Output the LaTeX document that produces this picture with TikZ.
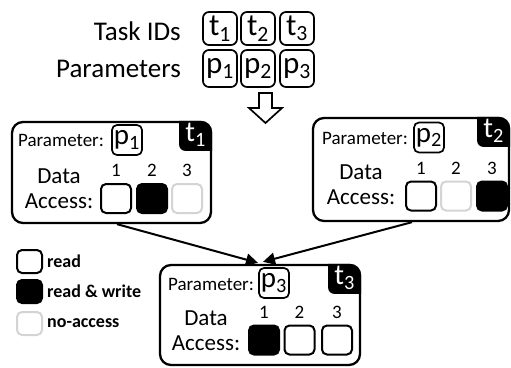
\documentclass[tikz,border=0pt]{standalone}
\usepackage{fontspec}
\setmainfont{Carlito}
\usetikzlibrary{calc,positioning,arrows.meta}
\definecolor{nogray}{RGB}{212,212,212}
\tikzset{
  biglabel/.style={font=\fontsize{27}{27}\selectfont, inner sep=0pt, anchor=east},
  idbox/.style={draw, line width=1.7pt, rounded corners=6pt, minimum width=34pt,
    minimum height=33pt, inner sep=0pt, font=\fontsize{31}{31}\selectfont},
  taskbox/.style={draw, line width=2.3pt, rounded corners=11pt, fill=white, inner sep=0pt},
  partext/.style={font=\fontsize{19}{19}\selectfont, inner sep=0pt, anchor=west},
  pbox/.style={draw, line width=1.7pt, rounded corners=5pt, minimum width=30pt,
    minimum height=30pt, inner sep=0pt, font=\fontsize{29}{29}\selectfont},
  tabtext/.style={text=white, font=\fontsize{29}{29}\selectfont, inner sep=0pt},
  daccess/.style={font=\fontsize{23}{25}\selectfont, inner sep=0pt, align=center},
  numtext/.style={font=\fontsize{19}{19}\selectfont, inner sep=0pt},
  sq/.style={line width=2pt, rounded corners=5pt, minimum width=30pt, minimum height=29pt, inner sep=0pt},
  rdsq/.style={sq, draw=black, fill=white},
  rwsq/.style={sq, draw=black, fill=black},
  nasq/.style={sq, draw=nogray, fill=white},
  legtext/.style={font=\bfseries\fontsize{18}{18}\selectfont, inner sep=0pt, anchor=west},
  flow/.style={line width=2pt, -{Triangle[length=12pt,width=12pt]}}
}
\begin{document}
\begin{tikzpicture}[x=1pt,y=-1pt]
\useasboundingbox (0,0) rectangle (511,367);
% task ids and parameters
\node[biglabel] (tasklbl) at (181,31) {Task IDs};
\node[biglabel] (parlbl) at (181,69) {Parameters};
\foreach \i/\x in {1/220,2/258,3/297} {
  \node[idbox] (id\i) at (\x,28.5) {t\textsubscript{\i}};
  \node[idbox, minimum height=37pt] (par\i) at (\x,68.5) {p\textsubscript{\i}};
}
% hollow arrow
\draw[line width=1.7pt, fill=white] (259,93) -- (272,93) -- (272,108) -- (282,108)
  -- (265.5,123) -- (249,108) -- (259,108) -- cycle;
% the three tasks
\node[taskbox, minimum width=199pt, minimum height=101pt] (box1) at (111.5,172.5) {};
\node[taskbox, minimum width=196pt, minimum height=103pt] (box2) at (411,169.5) {};
\node[taskbox, minimum width=200pt, minimum height=100pt] (box3) at (260,315) {};
\foreach \b/\t in {box1/1,box2/2,box3/3} {
  \fill ($(\b.north east)+(-33,0)$) -- ($(\b.north east)+(-11,0)$)
    arc[start angle=-90,end angle=0,radius=11] -- ($(\b.north east)+(0,30)$)
    -- ($(\b.north east)+(-27,30)$) arc[start angle=90,end angle=180,radius=6] -- cycle;
  \node[tabtext] (tab\t) at ($(\b.north east)+(-16.5,14)$) {t\textsubscript{\t}};
}
% task 1
\node[partext] (par1lbl) at (18,140) {Parameter:};
\node[pbox] (p1) at (127,140) {p\textsubscript{1}};
\node[daccess] (acc1) at (59,189) {Data\\Access:};
\node[rdsq] (s11) at (116,198.5) {};
\node[rwsq] (s12) at (152,198.5) {};
\node[nasq] (s13) at (187,198.5) {};
% task 2
\node[partext] (par2lbl) at (322,138.5) {Parameter:};
\node[pbox] (p2) at (429,137.5) {p\textsubscript{2}};
\node[daccess] (acc2) at (361,185) {Data\\Access:};
\node[rdsq] (s21) at (421,196) {};
\node[nasq] (s22) at (456,196) {};
\node[rwsq] (s23) at (492,196) {};
% task 3
\node[partext] (par3lbl) at (168,284) {Parameter:};
\node[pbox] (p3) at (274,283) {p\textsubscript{3}};
\node[daccess] (acc3) at (206,331) {Data\\Access:};
\node[rwsq] (s31) at (264,340) {};
\node[rdsq] (s32) at (299.5,340) {};
\node[rdsq] (s33) at (337,340) {};
% access numbers
\foreach \b in {1,2,3} {
  \foreach \k in {1,2,3} {
    \node[numtext, above=6pt of s\b\k] (n\b\k) {\k};
  }
}
% legend
\node[rdsq, minimum width=25pt, minimum height=23pt] (legrd) at (29.5,261.5) {};
\node[rwsq, minimum width=25pt, minimum height=23pt] (legrw) at (29.5,291.5) {};
\node[nasq, minimum width=25pt, minimum height=23pt] (legna) at (29.5,323.5) {};
\node[legtext, right=4pt of legrd] (rdtext) {read};
\node[legtext, right=4pt of legrw] (rwtext) {read \& write};
\node[legtext, right=4pt of legna] (natext) {no-access};
% dependencies
\draw[flow] ($(box1.south)+(5.5,0)$) -- ($(box3.north)+(-2,-1)$);
\draw[flow] ($(box2.south)+(1,0)$) -- ($(box3.north)+(3,-2)$);
\end{tikzpicture}
\end{document}
